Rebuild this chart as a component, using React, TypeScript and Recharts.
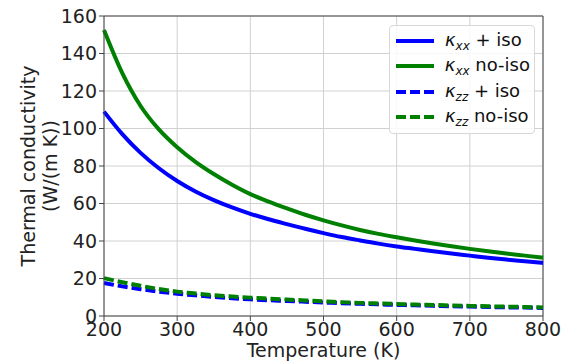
import React from 'react';
import { LineChart, Line, XAxis, YAxis, CartesianGrid, ReferenceLine, Label } from 'recharts';

// temperature grid (K)
const temps = [200, 225, 250, 275, 300, 325, 350, 375, 400, 425, 450, 475, 500, 525, 550, 575, 600, 625, 650, 675, 700, 725, 750, 775, 800];

// values, W/(m K)
const kxxIso = [109, 97, 87, 78.8, 72, 66.4, 61.8, 57.9, 54.5, 51.6, 49, 46.5, 44.2, 42.1, 40.3, 38.6, 37.1, 35.8, 34.5, 33.3, 32.2, 31.1, 30.1, 29.2, 28.3];
const kxxNoIso = [152.5, 129.5, 112, 99.5, 90, 82.2, 75.7, 70, 65, 61, 57.4, 54, 51, 48.3, 45.9, 43.8, 42, 40.3, 38.7, 37.2, 35.8, 34.5, 33.3, 32.2, 31.1];
const kzzIso = [17.6, 15.8, 14.3, 13.0, 11.9, 11.0, 10.2, 9.5, 8.9, 8.4, 8.0, 7.6, 7.2, 6.8, 6.5, 6.2, 5.9, 5.7, 5.4, 5.2, 5.0, 4.8, 4.6, 4.5, 4.3];
const kzzNoIso = [20.2, 18.0, 16.1, 14.4, 13.0, 12.0, 11.1, 10.4, 9.8, 9.3, 8.8, 8.3, 7.8, 7.4, 7.0, 6.7, 6.4, 6.1, 5.9, 5.6, 5.4, 5.2, 5.0, 4.8, 4.6];

const xTicks = [200, 300, 400, 500, 600, 700, 800];
const yTicks = [0, 20, 40, 60, 80, 100, 120, 140, 160];

const data = temps.map((t, i) => ({
  t,
  kxxIso: kxxIso[i],
  kxxNoIso: kxxNoIso[i],
  kzzIso: kzzIso[i],
  kzzNoIso: kzzNoIso[i],
}));

const BLUE = '#0000ff';
const GREEN = '#008000';
const FONT = 'DejaVu Sans';

const legendItems = [
  { sub: 'xx', rest: ' + iso', color: BLUE, dash: undefined },
  { sub: 'xx', rest: ' no-iso', color: GREEN, dash: undefined },
  { sub: 'zz', rest: ' + iso', color: BLUE, dash: '10 4' },
  { sub: 'zz', rest: ' no-iso', color: GREEN, dash: '10 4' },
];

function LegendBox() {
  return (
    <div
      style={{
        position: 'absolute',
        left: 389,
        top: 25,
        width: 146,
        boxSizing: 'border-box',
        border: '1px solid #d8d8d8',
        borderRadius: 4,
        background: 'rgba(255,255,255,0.85)',
        padding: '2px 4px 3px 5px',
        fontFamily: FONT,
        fontSize: 18,
        color: '#111',
      }}
    >
      {legendItems.map((it, i) => (
        <div key={i} style={{ display: 'flex', alignItems: 'center', height: 25.5 }}>
          <svg width={40} height={8} style={{ marginRight: 10 }}>
            <line x1={1} y1={4} x2={39} y2={4} stroke={it.color} strokeWidth={4} strokeDasharray={it.dash} />
          </svg>
          <span style={{ whiteSpace: 'nowrap' }}>
            <i>κ</i>
            <sub style={{ fontSize: 12, fontStyle: 'italic', verticalAlign: '-4px' }}>{it.sub}</sub>
            {it.rest}
          </span>
        </div>
      ))}
    </div>
  );
}

function YLabel(props: any) {
  const { viewBox } = props;
  const cy = viewBox.y + viewBox.height / 2;
  return (
    <g fontFamily={FONT} fontSize={19} fill="#222" textAnchor="middle">
      <text transform={`translate(35, ${cy}) rotate(-90)`}>Thermal conductivity</text>
      <text transform={`translate(57, ${cy}) rotate(-90)`}>(W/(m K))</text>
    </g>
  );
}

function XLabel(props: any) {
  const { viewBox } = props;
  return (
    <text x={viewBox.x + viewBox.width / 2} y={357} textAnchor="middle" fontFamily={FONT} fontSize={19} fill="#222">
      Temperature (K)
    </text>
  );
}

export default function App() {
  return (
    <div style={{ position: 'absolute', left: 0, top: 0, width: 572, height: 364, background: '#fff' }}>
      <LineChart width={572} height={364} data={data} margin={{ top: 16, right: 29, left: 0, bottom: 0 }}>
        <CartesianGrid stroke="#d0d0d0" strokeWidth={1} />
        <XAxis
          dataKey="t"
          type="number"
          domain={[200, 800]}
          ticks={xTicks}
          interval={0}
          height={48}
          tickSize={5}
          tickMargin={2}
          stroke="#444"
          tick={{ fill: '#222', fontSize: 19, fontFamily: FONT }}
        >
          <Label content={<XLabel />} />
        </XAxis>
        <YAxis
          type="number"
          domain={[0, 160]}
          ticks={yTicks}
          interval={0}
          width={104}
          tickSize={5}
          tickMargin={2}
          stroke="#444"
          tick={{ fill: '#222', fontSize: 19, fontFamily: FONT }}
        >
          <Label content={<YLabel />} />
        </YAxis>
        <ReferenceLine y={160} stroke="#444" />
        <ReferenceLine x={800} stroke="#444" />
        <Line dataKey="kxxIso" stroke={BLUE} strokeWidth={4} dot={false} type="monotone" isAnimationActive={false} />
        <Line dataKey="kxxNoIso" stroke={GREEN} strokeWidth={4} dot={false} type="monotone" isAnimationActive={false} />
        <Line dataKey="kzzIso" stroke={BLUE} strokeWidth={4} strokeDasharray="10 4" dot={false} type="monotone" isAnimationActive={false} />
        <Line dataKey="kzzNoIso" stroke={GREEN} strokeWidth={4} strokeDasharray="10 4" dot={false} type="monotone" isAnimationActive={false} />
      </LineChart>
      <LegendBox />
    </div>
  );
}
